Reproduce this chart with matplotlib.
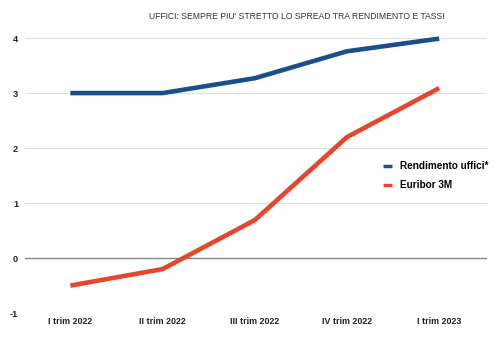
import matplotlib.pyplot as plt

plt.rcParams['font.family'] = ['Liberation Sans', 'DejaVu Sans']

quarters = ['I trim 2022', 'II trim 2022', 'III trim 2022', 'IV trim 2022', 'I trim 2023']
rendimento = [3.0, 3.0, 3.27, 3.76, 3.99]
euribor = [-0.5, -0.2, 0.69, 2.2, 3.09]
yticks = [-1, 0, 1, 2, 3, 4]

blue = '#1a4f8b'
red = '#e8452c'

fig = plt.figure(figsize=(4.94, 3.37), dpi=100)
ax = fig.add_axes([0.051, 0.071, 0.935, 0.816])

x = range(len(quarters))
for v in yticks:
    ax.axhline(v, color='#888888' if v == 0 else '#dddddd', lw=1.0 if v == 0 else 0.8, zorder=1)

ax.plot(x, rendimento, color=blue, lw=3.3, solid_capstyle='butt', solid_joinstyle='round',
        label='Rendimento uffici*', zorder=3, clip_on=False)
ax.plot(x, euribor, color=red, lw=3.3, solid_capstyle='butt', solid_joinstyle='round',
        label='Euribor 3M', zorder=3, clip_on=False)

ax.set_xlim(-0.49, 4.52)
ax.set_ylim(-1, 4)
ax.set_xticks(list(x))
ax.set_xticklabels(quarters, fontsize=6.4, fontweight='bold', color='#222222')
ax.set_yticks(yticks)
ax.set_yticklabels([str(v) for v in yticks], fontsize=6.6, fontweight='bold', color='#222222')
ax.tick_params(length=0, pad=3)
ax.tick_params(axis='y', pad=5)
for s in ax.spines.values():
    s.set_visible(False)

leg = ax.legend(loc='upper left', bbox_to_anchor=(0.755, 0.585), frameon=False,
                prop={'size': 7.2, 'weight': 'bold'}, handlelength=0.9, handletextpad=0.8,
                labelspacing=0.9)
for h in leg.get_lines():
    h.set_linewidth(2.5)

fig.text(0.6, 0.952, "UFFICI: SEMPRE PIU' STRETTO LO SPREAD TRA RENDIMENTO E TASSI",
         ha='center', va='center', fontsize=6.2, color='#333333')

fig.savefig('out.png', dpi=100, facecolor='white')
